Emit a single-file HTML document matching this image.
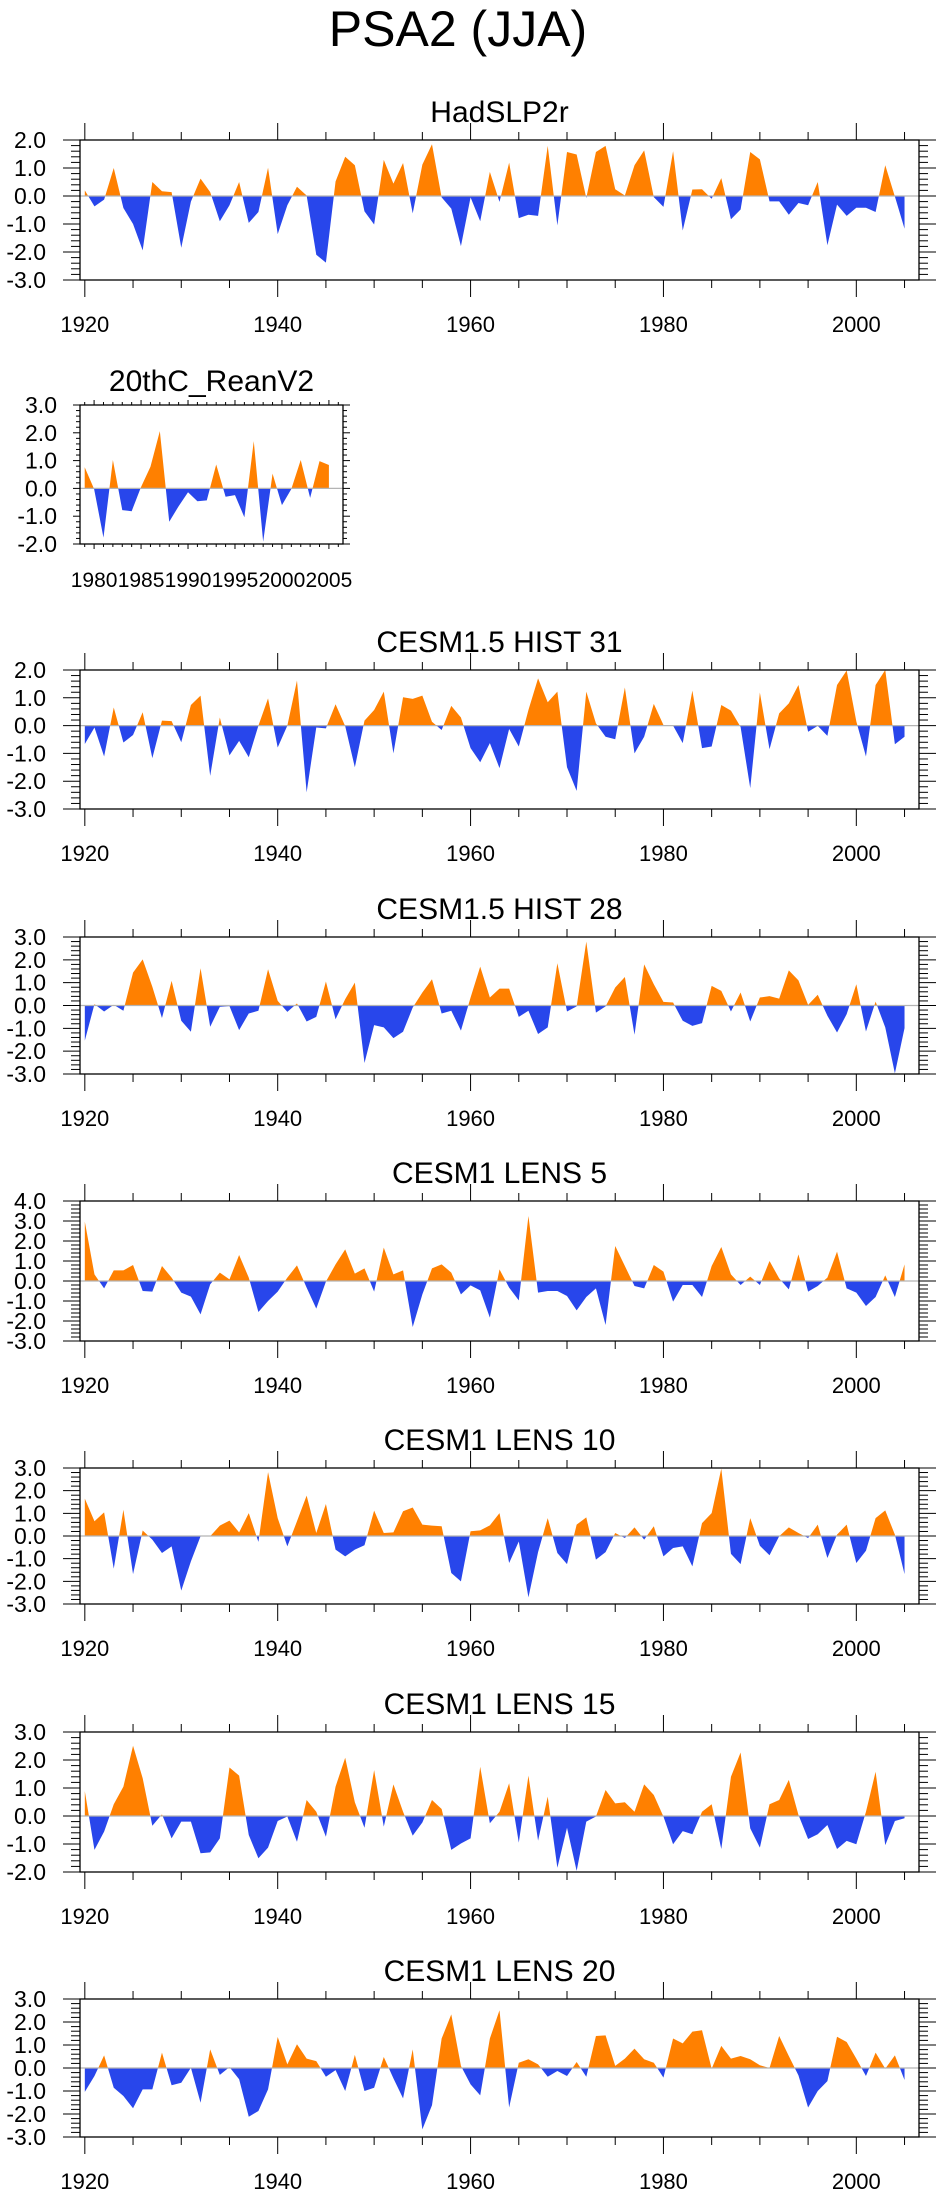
<!DOCTYPE html>
<html>
<head>
<meta charset="utf-8">
<style>
  html, body { margin:0; padding:0; background:#fff; }
  svg { display:block; }
  text { font-family: "Liberation Sans", "DejaVu Sans", sans-serif; fill:#000; }
</style>
</head>
<body>
<svg id="chart" width="943" height="2196" viewBox="0 0 943 2196" xmlns="http://www.w3.org/2000/svg">
  <rect x="0" y="0" width="943" height="2196" fill="#fff"/>
  <text x="458" y="46" font-size="50" text-anchor="middle">PSA2 (JJA)</text>
</svg>
<script>
// ---------- data ----------
const fullStartYear = 1920;
const reanStartYear = 1979;
const xTickYearsFull = [1920, 1940, 1960, 1980, 2000];
const xTickYearsRean = [1980, 1985, 1990, 1995, 2000, 2005];

const hadslp2r = [0.2,-0.37,-0.13,1.0,-0.43,-1.0,-1.94,0.5,0.17,0.14,-1.85,-0.2,0.62,0.14,-0.9,-0.33,0.5,-0.96,-0.57,1.01,-1.36,-0.33,0.33,0.02,-2.1,-2.38,0.52,1.4,1.1,-0.55,-1.02,1.29,0.44,1.18,-0.62,1.12,1.85,-0.05,-0.45,-1.79,-0.05,-0.9,0.86,-0.21,1.19,-0.79,-0.67,-0.71,1.79,-1.05,1.57,1.48,-0.07,1.57,1.79,0.24,0.02,1.1,1.63,-0.04,-0.39,1.6,-1.23,0.23,0.24,-0.1,0.64,-0.83,-0.48,1.57,1.31,-0.19,-0.19,-0.67,-0.25,-0.33,0.5,-1.76,-0.31,-0.71,-0.42,-0.42,-0.57,1.1,-0.02,-1.17];
const reanV2 = [0.76,-0.02,-1.77,1.02,-0.78,-0.82,0.05,0.78,2.06,-1.2,-0.64,-0.14,-0.46,-0.43,0.86,-0.3,-0.24,-1.04,1.7,-1.92,0.53,-0.6,-0.02,1.02,-0.34,0.98,0.84];
const hist31 = [-0.66,-0.07,-1.11,0.65,-0.61,-0.34,0.48,-1.17,0.18,0.16,-0.6,0.74,1.08,-1.81,0.29,-1.07,-0.55,-1.14,0.0,0.98,-0.79,0.0,1.62,-2.4,-0.07,-0.1,0.77,-0.02,-1.5,0.18,0.56,1.22,-1.0,1.02,0.96,1.08,0.14,-0.16,0.71,0.29,-0.81,-1.32,-0.63,-1.53,-0.12,-0.75,0.56,1.7,0.84,1.22,-1.5,-2.35,1.22,0.08,-0.4,-0.49,1.37,-1.0,-0.4,0.78,0.02,0.0,-0.63,1.26,-0.81,-0.75,0.74,0.54,-0.05,-2.25,1.19,-0.85,0.44,0.8,1.46,-0.22,-0.01,-0.37,1.46,1.98,0.15,-1.11,1.46,2.0,-0.67,-0.4];
const hist28 = [-1.54,0.06,-0.26,0.03,-0.23,1.44,2.02,0.82,-0.55,1.08,-0.67,-1.15,1.63,-0.93,-0.06,-0.03,-1.08,-0.35,-0.23,1.59,0.2,-0.28,0.09,-0.7,-0.5,1.05,-0.6,0.28,1.0,-2.52,-0.86,-0.96,-1.43,-1.15,-0.09,0.57,1.15,-0.35,-0.23,-1.1,0.35,1.7,0.35,0.74,0.74,-0.5,-0.23,-1.25,-0.96,1.85,-0.26,-0.04,2.8,-0.31,-0.04,0.79,1.25,-1.28,1.8,0.93,0.16,0.13,-0.67,-0.89,-0.77,0.86,0.64,-0.26,0.57,-0.7,0.35,0.41,0.3,1.54,1.1,0.03,0.47,-0.45,-1.18,-0.38,0.93,-1.14,0.17,-0.96,-2.97,-0.99];
const lens5 = [2.97,0.33,-0.37,0.53,0.53,0.8,-0.5,-0.53,0.75,0.17,-0.58,-0.78,-1.67,-0.17,0.42,0.08,1.3,0.17,-1.55,-1.0,-0.53,0.17,0.78,-0.33,-1.38,-0.03,0.83,1.58,0.37,0.63,-0.53,1.67,0.33,0.53,-2.3,-0.67,0.63,0.83,0.42,-0.67,-0.22,-0.47,-1.83,0.58,-0.33,-0.97,3.25,-0.58,-0.5,-0.5,-0.75,-1.47,-0.8,-0.37,-2.2,1.75,0.75,-0.25,-0.37,0.8,0.47,-1.03,-0.2,-0.2,-0.8,0.75,1.7,0.33,-0.2,0.22,-0.2,1.0,0.13,-0.42,1.33,-0.53,-0.25,0.17,1.47,-0.37,-0.58,-1.25,-0.8,0.28,-0.8,0.83];
const lens10 = [1.65,0.65,1.04,-1.44,1.16,-1.68,0.24,-0.16,-0.75,-0.46,-2.41,-1.12,-0.01,-0.01,0.46,0.68,0.16,1.01,-0.26,2.82,0.79,-0.46,0.65,1.78,0.13,1.41,-0.6,-0.9,-0.6,-0.41,1.12,0.13,0.16,1.09,1.26,0.5,0.46,0.43,-1.63,-2.0,0.21,0.25,0.47,1.01,-1.19,-0.24,-2.71,-0.71,0.79,-0.75,-1.24,0.5,0.82,-1.04,-0.71,0.13,-0.09,0.38,-0.16,0.43,-0.9,-0.53,-0.46,-1.34,0.57,1.01,2.97,-0.79,-1.24,0.79,-0.43,-0.85,-0.01,0.38,0.13,-0.09,0.5,-0.97,0.06,0.5,-1.19,-0.65,0.79,1.13,0.06,-1.68];
const lens15 = [0.89,-1.21,-0.56,0.42,1.05,2.51,1.35,-0.35,0.06,-0.8,-0.2,-0.2,-1.33,-1.3,-0.8,1.73,1.44,-0.68,-1.51,-1.13,-0.18,-0.02,-0.92,0.57,0.15,-0.74,1.05,2.08,0.49,-0.42,1.64,-0.38,1.13,0.15,-0.7,-0.23,0.57,0.25,-1.21,-0.98,-0.8,1.76,-0.26,0.15,1.17,-0.95,1.44,-0.88,0.69,-1.85,-0.42,-1.96,-0.2,-0.02,0.93,0.45,0.49,0.15,1.13,0.75,-0.02,-1.01,-0.54,-0.65,0.15,0.42,-1.18,1.4,2.27,-0.44,-1.13,0.42,0.57,1.29,0.04,-0.82,-0.65,-0.32,-1.18,-0.89,-1.01,0.15,1.58,-1.04,-0.18,-0.08];
const lens20 = [-1.04,-0.35,0.55,-0.86,-1.22,-1.75,-0.93,-0.93,0.67,-0.75,-0.64,0.01,-1.51,0.81,-0.3,0.04,-0.49,-2.12,-1.87,-0.93,1.35,0.16,1.03,0.41,0.3,-0.38,-0.09,-1.0,0.57,-1.0,-0.86,0.48,-0.45,-1.32,0.81,-2.67,-1.62,1.28,2.33,0.09,-0.71,-1.19,1.28,2.51,-1.72,0.23,0.38,0.16,-0.38,-0.13,-0.35,0.26,-0.38,1.39,1.42,0.09,0.41,0.84,0.38,0.23,-0.42,1.28,1.07,1.58,1.64,-0.03,0.96,0.41,0.52,0.38,0.12,0.0,1.39,0.52,-0.32,-1.72,-1.0,-0.57,1.36,1.13,0.41,-0.35,0.67,-0.03,0.55,-0.52];

// ---------- layout (geometry, not data) ----------
const panels = [
  {id:'hadslp2r', title:'HadSLP2r', values:hadslp2r, start:fullStartYear, ticks:xTickYearsFull, x0:80, x1:919, top:140, bottom:280, ymax:2, ymin:-3, xmin:1919.5, xmax:2006.5, small:false},
  {id:'reanv2', title:'20thC_ReanV2', values:reanV2, start:reanStartYear, ticks:xTickYearsRean, x0:80, x1:343, top:405, bottom:544, ymax:3, ymin:-2, xmin:1978.5, xmax:2006.5, small:true},
  {id:'hist31', title:'CESM1.5 HIST 31', values:hist31, start:fullStartYear, ticks:xTickYearsFull, x0:80, x1:919, top:670, bottom:809, ymax:2, ymin:-3, xmin:1919.5, xmax:2006.5, small:false},
  {id:'hist28', title:'CESM1.5 HIST 28', values:hist28, start:fullStartYear, ticks:xTickYearsFull, x0:80, x1:919, top:937, bottom:1074, ymax:3, ymin:-3, xmin:1919.5, xmax:2006.5, small:false},
  {id:'lens5', title:'CESM1 LENS 5', values:lens5, start:fullStartYear, ticks:xTickYearsFull, x0:80, x1:919, top:1201, bottom:1341, ymax:4, ymin:-3, xmin:1919.5, xmax:2006.5, small:false},
  {id:'lens10', title:'CESM1 LENS 10', values:lens10, start:fullStartYear, ticks:xTickYearsFull, x0:80, x1:919, top:1468, bottom:1604, ymax:3, ymin:-3, xmin:1919.5, xmax:2006.5, small:false},
  {id:'lens15', title:'CESM1 LENS 15', values:lens15, start:fullStartYear, ticks:xTickYearsFull, x0:80, x1:919, top:1732, bottom:1872, ymax:3, ymin:-2, xmin:1919.5, xmax:2006.5, small:false},
  {id:'lens20', title:'CESM1 LENS 20', values:lens20, start:fullStartYear, ticks:xTickYearsFull, x0:80, x1:919, top:1999, bottom:2137, ymax:3, ymin:-3, xmin:1919.5, xmax:2006.5, small:false}
];

const NS = 'http://www.w3.org/2000/svg';
const svg = document.getElementById('chart');
const defs = document.createElementNS(NS, 'defs');
svg.appendChild(defs);

function mk(tag, attrs, parent) {
  const e = document.createElementNS(NS, tag);
  for (const k in attrs) e.setAttribute(k, attrs[k]);
  (parent || svg).appendChild(e);
  return e;
}

panels.forEach(function (p) {
  const g = mk('g', {});
  
  

  const xs = function (yr) { return p.x0 + (yr - p.xmin) / (p.xmax - p.xmin) * (p.x1 - p.x0); };
  const ys = function (v) { return p.top + (p.ymax - v) / (p.ymax - p.ymin) * (p.bottom - p.top); };
  const zy = ys(0);

  const cpPos = mk('clipPath', {id: 'pos-' + p.id}, defs);
  mk('rect', {x: p.x0, y: p.top, width: p.x1 - p.x0, height: zy - p.top}, cpPos);
  const cpNeg = mk('clipPath', {id: 'neg-' + p.id}, defs);
  mk('rect', {x: p.x0, y: zy, width: p.x1 - p.x0, height: p.bottom - zy}, cpNeg);

  const pts = [];
  pts.push(xs(p.start).toFixed(2) + ',' + zy.toFixed(2));
  p.values.forEach(function (v, i) {
    pts.push(xs(p.start + i).toFixed(2) + ',' + ys(v).toFixed(2));
  });
  pts.push(xs(p.start + p.values.length - 1).toFixed(2) + ',' + zy.toFixed(2));
  const ptsStr = pts.join(' ');

  const pos = mk('polygon', {points: ptsStr, fill: '#ff8000', 'clip-path': 'url(#pos-' + p.id + ')'}, g);
  
  
  const neg = mk('polygon', {points: ptsStr, fill: '#2846eb', 'clip-path': 'url(#neg-' + p.id + ')'}, g);
  
  

  const zl = mk('line', {x1: p.x0, x2: p.x1, y1: zy, y2: zy, stroke: '#b4b4b4', 'stroke-width': 1.2}, g);
  
  

  const box = mk('rect', {x: p.x0, y: p.top, width: p.x1 - p.x0, height: p.bottom - p.top, fill: 'none', stroke: '#000', 'stroke-width': 1.3}, g);
  
  

  const majX = p.small ? 5 : 17, minX = p.small ? 3 : 8;
  const majY = p.small ? 7 : 17, minY = p.small ? 4 : 9;
  const minorStepX = p.small ? 1 : 5;

  const tg = mk('g', {stroke: '#000', 'stroke-width': 1}, g);
  
  
  const firstYr = Math.ceil(p.xmin), lastYr = Math.floor(p.xmax);
  for (let yr = firstYr; yr <= lastYr; yr++) {
    if (yr % minorStepX !== 0) continue;
    const isMajor = p.ticks.indexOf(yr) >= 0;
    const len = isMajor ? majX : minX;
    const x = xs(yr);
    mk('line', {x1: x, x2: x, y1: p.bottom, y2: p.bottom + len}, tg);
    mk('line', {x1: x, x2: x, y1: p.top, y2: p.top - len}, tg);
  }
  for (let k = Math.round(p.ymin * 5); k <= Math.round(p.ymax * 5); k++) {
    const v = k / 5;
    const isMajor = (k % 5 === 0);
    const len = isMajor ? majY : minY;
    const y = ys(v);
    mk('line', {x1: p.x0, x2: p.x0 - len, y1: y, y2: y}, tg);
    mk('line', {x1: p.x1, x2: p.x1 + len, y1: y, y2: y}, tg);
  }

  for (let v = p.ymin; v <= p.ymax; v++) {
    const t = mk('text', {x: p.small ? 57 : 46, y: ys(v) + 8, 'font-size': 23, 'text-anchor': 'end'}, g);
    t.textContent = v.toFixed(1);
    
    
  }
  p.ticks.forEach(function (yr) {
    const t = mk('text', {x: xs(yr), y: p.bottom + (p.small ? 43 : 52), 'font-size': p.small ? 21 : 22, 'text-anchor': 'middle'}, g);
    t.textContent = String(yr);
    
    
  });

  const tt = mk('text', {x: (p.x0 + p.x1) / 2, y: p.top - (p.small ? 14 : 18), 'font-size': 30, 'text-anchor': 'middle'}, g);
  tt.textContent = p.title;
  
  
});
</script>
</body>
</html>
